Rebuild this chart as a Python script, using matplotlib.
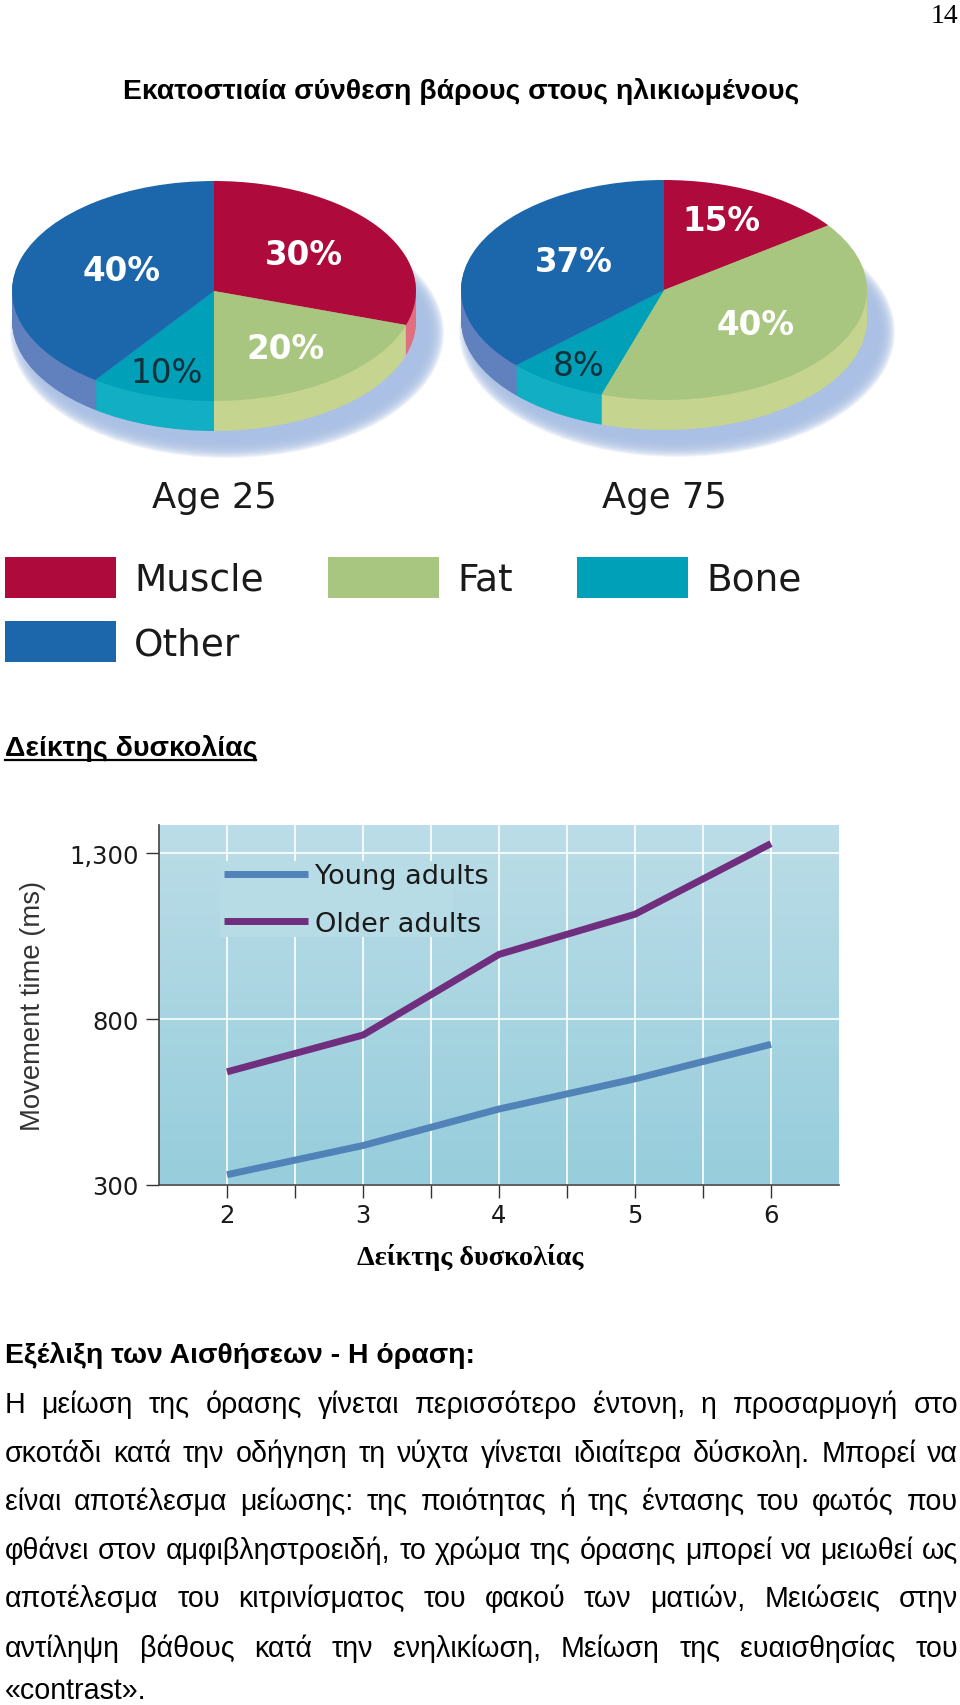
import numpy as np
import matplotlib
matplotlib.use('Agg')
import matplotlib.pyplot as plt
from matplotlib.patches import Ellipse, Patch, Rectangle
from matplotlib.ticker import FixedLocator, FuncFormatter

W, H = 960, 1706

# pies
parts = ['Muscle', 'Fat', 'Bone', 'Other']
age25 = [30, 20, 10, 40]
age75 = [15, 40, 8, 37]
top_colors = ['#AE0A3C', '#A9C680', '#00A0B8', '#1C67AC']
side_colors = ['#E0707F', '#C5D48F', '#11AEC4', '#6180BE']
legend_order = [0, 3, 1, 2]

# line chart
difficulty = [2, 3, 4, 5, 6]
young = [331, 419, 529, 620, 724]
older = [641, 752, 995, 1116, 1329]

# page text
page_no = '14'
title = 'Εκατοστιαία σύνθεση βάρους στους ηλικιωμένους'
heading = 'Δείκτης δυσκολίας'
xlabel_gr = 'Δείκτης δυσκολίας'
section = 'Εξέλιξη των Αισθήσεων - Η όραση:'
para = [
    'Η μείωση της όρασης γίνεται περισσότερο έντονη, η προσαρμογή στο',
    'σκοτάδι κατά την οδήγηση τη νύχτα γίνεται ιδιαίτερα δύσκολη. Μπορεί να',
    'είναι αποτέλεσμα μείωσης: της ποιότητας ή της έντασης του φωτός που',
    'φθάνει στον αμφιβληστροειδή, το χρώμα της όρασης μπορεί να μειωθεί ως',
    'αποτέλεσμα του κιτρινίσματος του φακού των ματιών, Μειώσεις στην',
    'αντίληψη βάθους κατά την ενηλικίωση, Μείωση της ευαισθησίας του',
]
para_last = '«contrast».'
para_y = [1413, 1462, 1510, 1559, 1607, 1657]

plt.rcParams['font.family'] = ['Liberation Sans', 'DejaVu Sans']

fig = plt.figure(figsize=(W / 100, H / 100), dpi=100, facecolor='white')


def draw_pie(cx, cy, rx, ry, depth, values):
    x0, x1, y0, y1 = -1.15, 1.2, -1.75, 1.05
    rect = [(cx + x0 * rx) / W, 1 - (cy - y0 * ry) / H, (x1 - x0) * rx / W, (y1 - y0) * ry / H]
    ax = fig.add_axes(rect)
    # soft shadow under the disc
    for grow in np.linspace(15, -2, 18):
        ax.add_patch(Ellipse((13 / rx, -(depth + 12) / ry), 2 * (rx + grow) / rx, 2 * (ry + grow) / ry,
                             facecolor='#A9C0E4', edgecolor='none', alpha=0.16, zorder=0))
    # side of the disc, then the top face
    for d in np.linspace(depth / ry, 0.01, 30):
        w, _ = ax.pie(values, colors=side_colors, startangle=90, counterclock=False, center=(0, -d),
                      wedgeprops={'linewidth': 0})
        for p in w:
            p.set_zorder(1)
    w, _ = ax.pie(values, colors=top_colors, startangle=90, counterclock=False, wedgeprops={'linewidth': 0})
    for p in w:
        p.set_zorder(2)
    ax.set_aspect('auto')
    ax.set_xlim(x0, x1)
    ax.set_ylim(y0, y1)
    return ax


draw_pie(214, 292, 202, 110, 30, age25)
draw_pie(664, 291, 203, 110, 30, age75)

fig.legend([Patch(facecolor=top_colors[i], edgecolor='none') for i in legend_order],
           [parts[i] for i in legend_order], ncols=3,
           loc='upper left', bbox_to_anchor=(5 / W, 1 - 558 / H), frameon=False, prop={'family': 'DejaVu Sans', 'size': 27},
           borderpad=0, borderaxespad=0, handlelength=2.96, handleheight=1.3, handletextpad=0.48,
           labelspacing=0.62, columnspacing=1.72, labelcolor='#1a1a1a')

# line chart
ax = fig.add_axes([159 / W, 1 - 1186 / H, 680 / W, 360 / H])
ax.imshow(np.linspace(0, 1, 64).reshape(-1, 1), extent=(1.5, 6.5, 300, 1385), aspect='auto', zorder=0,
          cmap=matplotlib.colors.LinearSegmentedColormap.from_list('bg', ['#BBDDE7', '#97CDDC']))
ax.set_xlim(1.5, 6.5)
ax.set_ylim(300, 1385)
ax.set_xticks(difficulty)
ax.xaxis.set_minor_locator(FixedLocator([2.5, 3.5, 4.5, 5.5]))
ax.set_yticks([300, 800, 1300])
ax.yaxis.set_major_formatter(FuncFormatter(lambda v, p: f'{int(v):,}'))
ax.set_axisbelow(True)
ax.grid(True, which='both', color='white', linewidth=1.2)
ax.tick_params(which='both', length=9.5, width=1, color='#333333', labelsize=17.5, labelcolor='#1a1a1a')
ax.tick_params(axis='x', pad=3.5)
ax.tick_params(axis='y', pad=5)
for lab in ax.get_xticklabels() + ax.get_yticklabels():
    lab.set_family('DejaVu Sans')
for s in ['top', 'right']:
    ax.spines[s].set_visible(False)
for s in ['left', 'bottom']:
    ax.spines[s].set_color('#444444')
    ax.spines[s].set_linewidth(1.2)
ax.add_patch(Rectangle((61 / 680, 248 / 360), 233 / 680, 76 / 360, transform=ax.transAxes,
                       facecolor='#B8DCE6', edgecolor='none', zorder=1))
l1, = ax.plot(difficulty, young, color='#5283B8', linewidth=5, solid_capstyle='butt', zorder=3)
l2, = ax.plot(difficulty, older, color='#702F7E', linewidth=5, solid_capstyle='butt', zorder=3)
ax.legend([l1, l2], ['Young adults', 'Older adults'], loc='upper left',
          bbox_to_anchor=(65 / 680, (1186 - 864) / 360), frameon=False, borderpad=0, borderaxespad=0,
          prop={'family': 'DejaVu Sans', 'size': 19.5}, handlelength=3.1, handletextpad=0.26,
          labelspacing=0.8, labelcolor='#1a1a1a')

# overlay in pixel coordinates for all the text on the page
page = fig.add_axes([0, 0, 1, 1], facecolor='none')
page.set_xlim(0, W)
page.set_ylim(H, 0)
page.axis('off')
renderer = fig.canvas.get_renderer()

page.text(958, 23, page_no, ha='right', va='baseline', family='Liberation Serif', fontsize=20)
page.text(123, 99, title, ha='left', va='baseline', fontweight='bold', fontsize=20.4)
page.text(5, 756, heading, ha='left', va='baseline', fontweight='bold', fontsize=20.5)
page.plot([5, 256], [760.5, 760.5], color='black', linewidth=1.6)

label_xy = [(304, 255), (285, 349), (167, 373), (122, 271)]
for v, (x, y), col, w in zip(age25, label_xy, ['white', 'white', '#10303a', 'white'],
                             ['bold', 'bold', 'normal', 'bold']):
    page.text(x, y, f'{v}%', ha='center', va='center', color=col, fontweight=w, family='DejaVu Sans', fontsize=23.5)
label_xy = [(721, 221), (756, 325), (579, 366), (574, 262)]
for v, (x, y), col, w in zip(age75, label_xy, ['white', 'white', '#10303a', 'white'],
                             ['bold', 'bold', 'normal', 'bold']):
    page.text(x, y, f'{v}%', ha='center', va='center', color=col, fontweight=w, family='DejaVu Sans', fontsize=23.5)

page.text(214, 508, 'Age 25', ha='center', va='baseline', color='#1a1a1a', family='DejaVu Sans', fontsize=25.5)
page.text(664, 508, 'Age 75', ha='center', va='baseline', color='#1a1a1a', family='DejaVu Sans', fontsize=25.5)

page.text(33, 1006, 'Movement time (ms)', rotation=90, ha='center', va='center', color='#333333', fontsize=19.8)
page.text(470, 1265, xlabel_gr, ha='center', va='baseline', family='Liberation Serif', fontweight='bold', fontsize=20.3)
page.text(5, 1363, section, ha='left', va='baseline', fontweight='bold', fontsize=20.4)


# justified body text: words spread between the two margins
def justify(line, y, x0=5, x1=958, size=20.6):
    words = line.split()
    items = [page.text(0, y, w, va='baseline', ha='left', fontsize=size) for w in words]
    widths = [t.get_window_extent(renderer).width for t in items]
    gap = (x1 - x0 - sum(widths)) / (len(words) - 1)
    x = x0
    for t, wd in zip(items, widths):
        t.set_x(x)
        x += wd + gap


for line, y in zip(para, para_y):
    justify(line, y)
page.text(5, 1699, para_last, va='baseline', ha='left', fontsize=20.6)

fig.savefig('out.png', dpi=100)
